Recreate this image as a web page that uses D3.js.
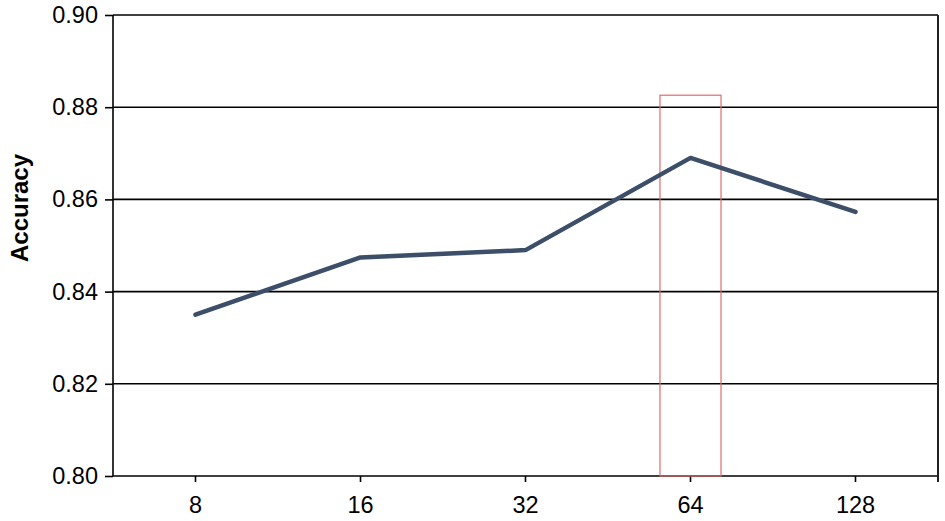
<!DOCTYPE html>
<html>
<head>
<meta charset="utf-8">
<script src="https://d3js.org/d3.v7.min.js"></script>
<style>
html, body { margin: 0; background: #fff; }
svg { display: block; font-family: "Liberation Sans", Arial, sans-serif; }
</style>
</head>
<body>
<script>
// data
var categories = ["8", "16", "32", "64", "128"];
var accuracy = [0.835, 0.8474, 0.849, 0.869, 0.8573];
var yTicks = [0.80, 0.82, 0.84, 0.86, 0.88, 0.90];
var highlight = { category: "64", top: 0.8826 };

var W = 945, H = 521;
var margin = { top: 15, right: 7, bottom: 45, left: 113 };
var width = W - margin.left - margin.right,
    height = H - margin.top - margin.bottom;

var svg = d3.select("body").append("svg")
  .attr("width", W).attr("height", H);
var g = svg.append("g")
  .attr("transform", "translate(" + margin.left + "," + margin.top + ")");

var x = d3.scaleBand().domain(categories).range([0, width]);
var y = d3.scaleLinear().domain([0.80, 0.90]).range([height, 0]);

// horizontal gridlines + y ticks
var yAxis = g.append("g")
  .call(d3.axisLeft(y).tickValues(yTicks).tickFormat(d3.format(".2f"))
    .tickSize(8).tickPadding(7));
yAxis.select(".domain").remove();
yAxis.selectAll("line").attr("stroke", "#000").attr("stroke-width", 1.6);
yAxis.selectAll("text").attr("font-size", 23.5).attr("fill", "#000");

g.append("g").selectAll("line").data(yTicks).enter().append("line")
  .attr("x1", 0).attr("x2", width)
  .attr("y1", function(d) { return y(d); })
  .attr("y2", function(d) { return y(d); })
  .attr("stroke", "#000").attr("stroke-width", 1.6);

// left and right border
g.append("line").attr("x1", 0).attr("x2", 0).attr("y1", 0).attr("y2", height)
  .attr("stroke", "#000").attr("stroke-width", 1.6);
g.append("line").attr("x1", width).attr("x2", width).attr("y1", 0).attr("y2", height + 6)
  .attr("stroke", "#222").attr("stroke-width", 2);

// x axis ticks at category centres
var xAxis = g.append("g")
  .attr("transform", "translate(0," + height + ")")
  .call(d3.axisBottom(x).tickSize(6).tickPadding(14).tickSizeOuter(0));
xAxis.select(".domain").remove();
xAxis.selectAll("line").attr("stroke", "#000").attr("stroke-width", 1.6);
xAxis.selectAll("text").attr("font-size", 23.5).attr("fill", "#000");

// highlight box
var bw = x.bandwidth() * 0.37;
g.append("rect")
  .attr("x", x(highlight.category) + x.bandwidth() / 2 - bw / 2)
  .attr("y", y(highlight.top))
  .attr("width", bw)
  .attr("height", height - y(highlight.top))
  .attr("fill", "none")
  .attr("stroke", "#e06a6a").attr("stroke-width", 1.2);

// line
var line = d3.line()
  .x(function(d, i) { return x(categories[i]) + x.bandwidth() / 2; })
  .y(function(d) { return y(d); });
g.append("path").datum(accuracy)
  .attr("d", line)
  .attr("fill", "none")
  .attr("stroke", "#3d4f68")
  .attr("stroke-width", 4.5)
  .attr("stroke-linejoin", "round")
  .attr("stroke-linecap", "round");

// y label
svg.append("text")
  .attr("transform", "translate(28,208) rotate(-90)")
  .attr("text-anchor", "middle")
  .attr("font-size", 24)
  .attr("font-weight", "bold")
  .text("Accuracy");
</script>
</body>
</html>
